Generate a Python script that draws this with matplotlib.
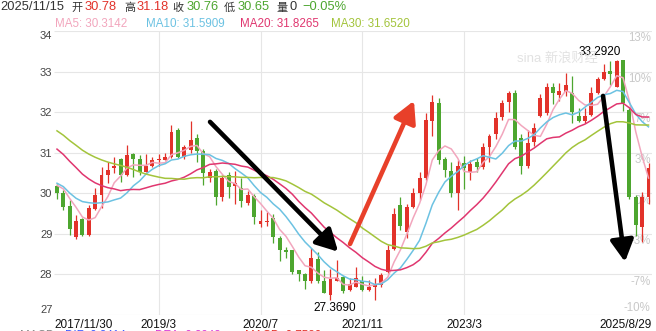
import matplotlib
matplotlib.use("Agg")
import matplotlib.pyplot as plt
from matplotlib.patches import FancyArrowPatch, ArrowStyle
import pandas as pd

plt.rcParams['font.family'] = ['Liberation Sans', 'Noto Sans CJK SC', 'DejaVu Sans']

# ---------------- data (monthly candles, 2017/11 .. 2025) ----------------
opens = [30.18, 30.00, 29.69, 28.92, 29.36, 28.98, 29.61, 29.96, 30.45, 30.63,
         30.84, 30.45, 30.97, 30.84, 30.53, 30.67, 30.83, 30.83, 30.90, 31.56,
         30.90, 31.07, 31.36, 31.05, 30.37, 30.55, 29.92, 30.45, 30.17, 30.12,
         29.77, 29.94, 29.25, 29.29, 29.39, 28.90, 28.60, 28.60, 28.10, 28.02,
         27.85, 28.38, 27.85, 27.50, 27.85, 27.93, 27.62, 27.70, 27.83, 27.62,
         27.69, 27.74, 28.07, 28.62, 29.70, 29.05, 29.67, 30.00, 30.37, 31.77,
         32.23, 30.84, 30.56, 30.00, 30.74, 30.53, 30.78, 30.66, 31.13, 31.46,
         31.87, 32.26, 32.48, 31.36, 30.67, 31.27, 31.90, 31.97, 32.63, 32.42,
         32.50, 32.48, 31.91, 31.77, 31.93, 32.47, 32.81, 33.02, 32.63, 33.29,
         32.05, 29.92, 29.18, 29.92]
highs = [30.23, 30.07, 29.84, 29.47, 29.38, 29.72, 30.13, 30.66, 30.76, 30.90,
         30.86, 31.19, 31.00, 30.95, 30.97, 30.90, 30.97, 31.00, 31.68, 31.60,
         31.20, 31.77, 31.45, 31.10, 30.60, 30.60, 30.45, 30.53, 30.56, 30.37,
         30.05, 29.98, 29.59, 29.54, 29.50, 28.95, 28.68, 28.60, 28.10, 28.03,
         28.65, 28.55, 28.11, 28.13, 28.36, 27.97, 27.91, 28.18, 27.95, 27.87,
         27.90, 28.03, 28.73, 29.63, 29.92, 29.74, 30.13, 30.53, 31.97, 32.42,
         32.34, 30.90, 30.78, 30.82, 30.92, 30.82, 30.86, 31.23, 31.46, 32.01,
         32.29, 32.53, 32.54, 31.45, 31.56, 31.74, 32.44, 32.73, 32.73, 32.73,
         32.96, 32.89, 32.10, 32.10, 32.63, 32.87, 33.19, 33.27, 33.28, 33.292,
         32.10, 29.95, 30.04, 30.75]
lows = [29.85, 29.59, 28.98, 28.88, 28.95, 28.95, 29.59, 29.63, 30.25, 30.50,
        30.29, 30.43, 30.41, 30.45, 30.52, 30.65, 30.67, 30.81, 30.88, 30.88,
        30.85, 31.00, 30.78, 30.21, 30.27, 29.70, 29.82, 29.88, 29.74, 29.66,
        29.72, 29.25, 29.16, 29.20, 28.77, 28.34, 28.40, 28.00, 27.83, 27.64,
        27.79, 27.80, 27.54, 27.369, 27.84, 27.55, 27.58, 27.68, 27.58, 27.58,
        27.38, 27.70, 28.03, 28.60, 29.10, 28.90, 29.63, 29.84, 30.33, 31.40,
        30.72, 30.40, 29.92, 29.59, 30.10, 30.33, 30.53, 30.59, 30.78, 31.33,
        31.80, 32.01, 31.08, 30.48, 30.63, 31.17, 31.87, 31.93, 32.20, 32.28,
        32.40, 31.73, 31.75, 31.73, 31.90, 32.44, 32.80, 32.67, 32.62, 32.04,
        29.85, 28.95, 28.81, 29.74]
closes = [30.00, 29.66, 29.12, 29.31, 28.98, 29.63, 29.96, 30.45, 30.58, 30.68,
          30.45, 30.95, 30.84, 30.53, 30.67, 30.82, 30.85, 30.90, 31.52, 30.90,
          31.13, 31.32, 31.03, 30.50, 30.53, 29.90, 30.37, 30.15, 30.25, 29.80,
          29.96, 29.41, 29.32, 29.31, 28.92, 28.59, 28.56, 28.07, 28.00, 27.85,
          28.40, 27.85, 27.55, 27.88, 27.91, 27.58, 27.77, 27.91, 27.62, 27.70,
          27.74, 27.99, 28.60, 29.50, 29.20, 29.67, 30.00, 30.37, 31.80, 32.26,
          30.82, 30.58, 30.00, 30.67, 30.62, 30.72, 30.64, 31.15, 31.40, 31.85,
          32.23, 32.47, 31.13, 30.67, 31.25, 31.62, 32.34, 32.63, 32.48, 32.53,
          32.67, 32.01, 31.77, 31.91, 32.47, 32.81, 33.00, 32.94, 33.27, 32.22,
          29.92, 29.22, 29.90, 30.62]
# estimated closes of the 29 months before the first visible candle (for MAs)
seed_closes = [32.9, 33.1, 32.8, 32.6, 32.5, 32.3, 32.4, 32.2, 32.0, 31.6,
               32.3, 32.5, 32.4, 32.2, 32.0, 31.9, 31.8, 31.6, 31.3, 31.3,
               30.5, 30.7, 30.6, 29.8, 29.9, 30.1, 30.3, 30.4, 30.18]

ma_periods = [5, 10, 20, 30]
ma_colors = ['#f2a6bd', '#6cc2e2', '#e0366f', '#a3c43b']
ma_legend = ['MA5: 30.3142', 'MA10: 31.5909', 'MA20: 31.8265', 'MA30: 31.6520']

price_ticks = [27, 28, 29, 30, 31, 32, 33, 34]
pct_labels = ['-10%', '-7%', '-3%', '0%', '3%', '7%', '10%', '13%']
grid_x = [16, 32, 48, 64]
date_labels = ['2017/11/30', '2019/3', '2020/7', '2021/11', '2023/3', '2025/8/29']

# trend arrows (start, end) in data coordinates
arrows = [((24.06, 31.76), (44.2, 28.56), '#000000'),
          ((46.07, 28.75), (56.13, 32.28), '#e8402a'),
          ((85.85, 32.40), (89.3, 28.31), '#000000')]

RED = '#e2322a'
GREEN = '#4da62f'

W, H = 656, 331
fig = plt.figure(figsize=(W / 100, H / 100), dpi=100)
fig.patch.set_facecolor('white')

def fpx(x, y):
    return x / W, 1 - y / H

L, R, T, B = 54, 652, 31, 315
ax = fig.add_axes([L / W, 1 - B / H, (R - L) / W, (B - T) / H])
n = len(closes)
ax.set_xlim(-0.47, 93.55)
ax.set_ylim(27, 34)
for s in ax.spines.values():
    s.set_visible(False)

# grid
ax.hlines(price_ticks, -0.47, 93.55, colors='#e6e6e6', lw=0.8, zorder=0)
ax.vlines(grid_x, 27, 34, colors='#e6e6e6', lw=0.8, zorder=0)

# y tick labels (left)
ax.set_yticks(price_ticks)
ax.set_yticklabels([str(v) for v in price_ticks])
ax.tick_params(axis='y', length=0, pad=1.2, labelsize=8, labelcolor='#444444')
ylabs = ax.get_yticklabels()
ylabs[0].set_va('bottom')
ylabs[-1].set_va('top')

# x tick labels
ax.set_xticks([-0.47] + grid_x + [93.55])
ax.set_xticklabels(date_labels)
ax.tick_params(axis='x', length=0, pad=3.0, labelsize=8.5, labelcolor='#111111')
xlabs = ax.get_xticklabels()
xlabs[0].set_ha('left')
xlabs[-1].set_ha('right')

# percent labels (right, inside)
for p, lab in zip(price_ticks, pct_labels):
    va = 'bottom' if p == price_ticks[0] else 'top'
    dy = 0.03 if va == 'bottom' else -0.03
    ax.text(93.35, p + dy, lab, ha='right', va=va, fontsize=8.3,
            color='#c8c8c8', zorder=1)

# candles
for i in range(n):
    o, h, l, c = opens[i], highs[i], lows[i], closes[i]
    col = RED if c >= o else GREEN
    ax.vlines(i, l, h, colors=col, lw=0.9, zorder=3)
    body = max(abs(c - o), 0.025)
    ax.bar(i, body, bottom=min(o, c), width=0.62, color=col, lw=0, zorder=3)

# moving averages
full = pd.Series(seed_closes + closes)
x = list(range(n))
for per, col in zip(ma_periods, ma_colors):
    ma = full.rolling(per).mean().iloc[len(seed_closes):].values
    ax.plot(x, ma, color=col, lw=1.1, zorder=4)

# high / low labels
imax = max(range(n), key=lambda k: highs[k])
imin = min(range(n), key=lambda k: lows[k])
ax.text(imax - 0.3, highs[imax] + 0.05, f"{highs[imax]:.4f}", ha='right', va='bottom',
        fontsize=8.5, color='#000000', zorder=6)
ax.text(imin + 0.6, lows[imin] - 0.05, f"{lows[imin]:.4f}", ha='center', va='top',
        fontsize=8.5, color='#000000', zorder=6)

# arrows
for (x0, y0), (x1, y1), col in arrows:
    arr = FancyArrowPatch((x0, y0), (x1, y1),
                          arrowstyle=ArrowStyle('-|>', head_length=1.3, head_width=0.7),
                          mutation_scale=10, color=col, lw=3.3,
                          shrinkA=0, shrinkB=0, zorder=7)
    ax.add_patch(arr)

# watermark
fig.text(*fpx(517, 62), 'sina 新浪财经', fontsize=9.5, color='#e2e2e2',
         va='baseline', ha='left', zorder=0)

# header line 1
hdr = [(0, '2025/11/15', '#333333', 9.3), (71, '开', '#333333', 8),
       (85, '30.78', RED, 9.3), (124, '高', '#333333', 8), (137, '31.18', RED, 9.3),
       (172, '收', '#333333', 8), (187, '30.76', GREEN, 9.3), (224, '低', '#333333', 8),
       (238, '30.65', GREEN, 9.3), (276, '量', '#333333', 8), (290, '0', '#333333', 9.3),
       (302, '\u22120.05%', GREEN, 9.3)]
for xx, t, c, fs in hdr:
    fig.text(*fpx(xx, 10.5), t, fontsize=fs, color=c, va='baseline', ha='left')

# header line 2: MA legend
for xx, t, c in zip([55, 146, 240, 331], ma_legend, ma_colors):
    fig.text(*fpx(xx, 26.7), t, fontsize=8.4, color=c, va='baseline', ha='left')

# next panel legend (cut off at bottom edge of the image)
for xx, t, c in [(20, 'MACD', '#888888'), (65, 'DIF: 0.2414', '#3d5cff'),
                 (155, 'DEA: 0.2948', '#d83ad8'), (245, 'MACD: 0.7580', '#e2322a')]:
    fig.text(*fpx(xx, 330.2), t, fontsize=8.4, color=c, va='top', ha='left')

fig.savefig('out.png', dpi=100, facecolor='white')
